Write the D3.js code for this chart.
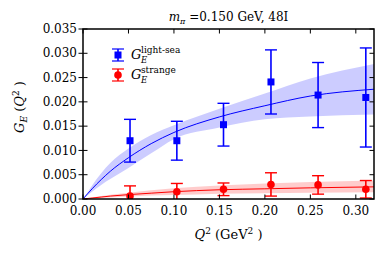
<!DOCTYPE html>
<html>
<head>
<meta charset="utf-8">
<script src="https://cdn.jsdelivr.net/npm/d3@7"></script>
<style>
  body { margin: 0; background: #fff; }
  svg text { font-family: "DejaVu Serif", "Liberation Serif", serif; fill: #000; }
</style>
</head>
<body>
<div id="chart"></div>
<script>
// Data
var q2 = [0.0517, 0.1032, 0.1545, 0.2067, 0.2585, 0.3110];
var lightSea = [0.0120, 0.0120, 0.0153, 0.0241, 0.0214, 0.0209];
var lightSeaErr = [0.0044, 0.0040, 0.0044, 0.0066, 0.0067, 0.0102];
var strange = [0.0006, 0.0015, 0.0020, 0.0030, 0.0029, 0.0020];
var strangeErr = [0.0021, 0.0017, 0.0013, 0.0024, 0.0019, 0.0018];

// Fit curves and bands
var fitQ2 = [0, 0.01, 0.02, 0.03, 0.05, 0.075, 0.10, 0.15, 0.20, 0.25, 0.32];
var fitLight = [0, 0.0021, 0.0040, 0.0057, 0.0085, 0.0114, 0.0137, 0.0169, 0.0192, 0.0212, 0.0226];
var fitLightHi = [0, 0.0028, 0.0053, 0.0074, 0.0104, 0.0132, 0.0152, 0.0186, 0.0217, 0.0248, 0.0278];
var fitLightLo = [0, 0.0015, 0.0029, 0.0041, 0.0064, 0.0094, 0.0123, 0.0147, 0.0164, 0.0170, 0.0174];
var fitStrange = [0, 0.0002, 0.0004, 0.0006, 0.0009, 0.0012, 0.0015, 0.0019, 0.0021, 0.0023, 0.0025];
var fitStrangeHi = [0, 0.0003, 0.0006, 0.0009, 0.0013, 0.0018, 0.0022, 0.0028, 0.0032, 0.0035, 0.0038];
var fitStrangeLo = [0, 0.0001, 0.0002, 0.0003, 0.0005, 0.0007, 0.0008, 0.0011, 0.0012, 0.0013, 0.0014];

var xTicks = [0, 0.05, 0.10, 0.15, 0.20, 0.25, 0.30];
var yTicks = [0, 0.005, 0.010, 0.015, 0.020, 0.025, 0.030, 0.035];

var W = 386, H = 255;
var margin = { top: 29, right: 12, bottom: 56, left: 83 },
    width = W - margin.left - margin.right,
    height = H - margin.top - margin.bottom;

var svg = d3.select('#chart').append('svg')
    .attr('width', W)
    .attr('height', H)
    .attr('font-family', '"DejaVu Serif", "Liberation Serif", serif');

var g = svg.append('g')
    .attr('transform', 'translate(' + margin.left + ',' + margin.top + ')');

var x = d3.scaleLinear().domain([0, 0.32]).range([0, width]);
var y = d3.scaleLinear().domain([0, 0.035]).range([height, 0]);

svg.append('defs').append('clipPath').attr('id', 'clip')
    .append('rect').attr('width', width).attr('height', height);

var plot = g.append('g').attr('clip-path', 'url(#clip)');

// Bands
function band(hi, lo, color) {
    var area = d3.area()
        .x(function (d, i) { return x(fitQ2[i]); })
        .y0(function (d, i) { return y(lo[i]); })
        .y1(function (d, i) { return y(hi[i]); })
        .curve(d3.curveMonotoneX);
    plot.append('path').datum(fitQ2).attr('d', area)
        .attr('fill', color).attr('stroke', 'none');
}
function curve(vals, color) {
    var line = d3.line()
        .x(function (d, i) { return x(fitQ2[i]); })
        .y(function (d, i) { return y(vals[i]); })
        .curve(d3.curveMonotoneX);
    plot.append('path').datum(fitQ2).attr('d', line)
        .attr('fill', 'none').attr('stroke', color).attr('stroke-width', 1);
}
band(fitLightHi, fitLightLo, 'rgba(0,0,255,0.2)');
band(fitStrangeHi, fitStrangeLo, 'rgba(255,0,0,0.2)');
curve(fitLight, '#0000ff');
curve(fitStrange, '#ff0000');

// Error bars
function errorbars(vals, errs, color, shape) {
    var grp = plot.append('g');
    q2.forEach(function (q, i) {
        var cx = x(q), top = y(vals[i] + errs[i]), bot = y(vals[i] - errs[i]);
        grp.append('line').attr('x1', cx).attr('x2', cx).attr('y1', top).attr('y2', bot)
            .attr('stroke', color).attr('stroke-width', 1.6);
        [top, bot].forEach(function (yy) {
            grp.append('line').attr('x1', cx - 6).attr('x2', cx + 6).attr('y1', yy).attr('y2', yy)
                .attr('stroke', color).attr('stroke-width', 1.4);
        });
        if (shape == 'square') {
            grp.append('rect').attr('x', cx - 3.5).attr('y', y(vals[i]) - 3.5)
                .attr('width', 7).attr('height', 7).attr('fill', color);
        } else {
            grp.append('circle').attr('cx', cx).attr('cy', y(vals[i])).attr('r', 3.8)
                .attr('fill', color);
        }
    });
}
errorbars(lightSea, lightSeaErr, '#0000ff', 'square');
errorbars(strange, strangeErr, '#ff0000', 'circle');

// Ticks (inside), frame
var tl = 4.5;
xTicks.forEach(function (t) {
    g.append('line').attr('x1', x(t)).attr('x2', x(t)).attr('y1', height).attr('y2', height - tl)
        .attr('stroke', '#000').attr('stroke-width', 1);
    g.append('line').attr('x1', x(t)).attr('x2', x(t)).attr('y1', 0).attr('y2', tl)
        .attr('stroke', '#000').attr('stroke-width', 1);
    g.append('text').attr('x', x(t)).attr('y', height + 16)
        .attr('text-anchor', 'middle').attr('font-size', 12)
        .text(d3.format('.2f')(t));
});
yTicks.forEach(function (t) {
    g.append('line').attr('x1', -tl).attr('x2', tl).attr('y1', y(t)).attr('y2', y(t))
        .attr('stroke', '#000').attr('stroke-width', 1);
    g.append('line').attr('x1', width).attr('x2', width - tl).attr('y1', y(t)).attr('y2', y(t))
        .attr('stroke', '#000').attr('stroke-width', 1);
    g.append('text').attr('x', -6).attr('y', y(t)).attr('dy', '0.35em')
        .attr('text-anchor', 'end').attr('font-size', 12)
        .text(d3.format('.3f')(t));
});
g.append('rect').attr('width', width).attr('height', height)
    .attr('fill', 'none').attr('stroke', '#000').attr('stroke-width', 1.5);

// Title
var title = svg.append('text').attr('x', margin.left + width / 2).attr('y', 21)
    .attr('text-anchor', 'middle').attr('font-size', 12);
title.append('tspan').attr('font-style', 'italic').text('m');
title.append('tspan').attr('font-style', 'italic').attr('font-size', 8).attr('dy', 3).text('π');
title.append('tspan').attr('dy', -3).text(' =0.150 GeV, 48I');

// Axis labels
var xl = svg.append('text').attr('x', margin.left + width / 2).attr('y', 239)
    .attr('text-anchor', 'middle').attr('font-size', 13);
xl.append('tspan').attr('font-style', 'italic').text('Q');
xl.append('tspan').attr('font-size', 9).attr('dy', -5).text('2');
xl.append('tspan').attr('dy', 5).text(' (GeV');
xl.append('tspan').attr('font-size', 9).attr('dy', -5).text('2');
xl.append('tspan').attr('dy', 5).text(' )');

var yl = svg.append('text').attr('transform', 'translate(24,107) rotate(-90)')
    .attr('text-anchor', 'middle').attr('font-size', 13);
yl.append('tspan').attr('font-style', 'italic').text('G');
yl.append('tspan').attr('font-style', 'italic').attr('font-size', 9).attr('dy', 3).text('E');
yl.append('tspan').attr('dy', -3).text(' (');
yl.append('tspan').attr('font-style', 'italic').text('Q');
yl.append('tspan').attr('font-size', 9).attr('dy', -5).text('2');
yl.append('tspan').attr('dy', 5).text(' )');

// Legend
var legend = [
    { name: 'light-sea', color: '#0000ff', shape: 'square', y: 55 },
    { name: 'strange', color: '#ff0000', shape: 'circle', y: 75 }
];
legend.forEach(function (d) {
    var cx = 118;
    svg.append('line').attr('x1', cx).attr('x2', cx).attr('y1', d.y - 6).attr('y2', d.y + 6)
        .attr('stroke', d.color).attr('stroke-width', 1.6);
    [d.y - 6, d.y + 6].forEach(function (yy) {
        svg.append('line').attr('x1', cx - 6).attr('x2', cx + 6).attr('y1', yy).attr('y2', yy)
            .attr('stroke', d.color).attr('stroke-width', 1.2);
    });
    if (d.shape == 'square') {
        svg.append('rect').attr('x', cx - 3.5).attr('y', d.y - 3.5).attr('width', 7).attr('height', 7)
            .attr('fill', d.color);
    } else {
        svg.append('circle').attr('cx', cx).attr('cy', d.y).attr('r', 3.8).attr('fill', d.color);
    }
    svg.append('text').attr('x', 131).attr('y', d.y + 4).attr('font-size', 13)
        .attr('font-style', 'italic').text('G');
    svg.append('text').attr('x', 141).attr('y', d.y + 8)
        .attr('font-size', 8.5).attr('font-style', 'italic').text('E');
    svg.append('text').attr('x', 141).attr('y', d.y - 2)
        .attr('font-size', 9).text(d.name);
});
</script>
</body>
</html>
